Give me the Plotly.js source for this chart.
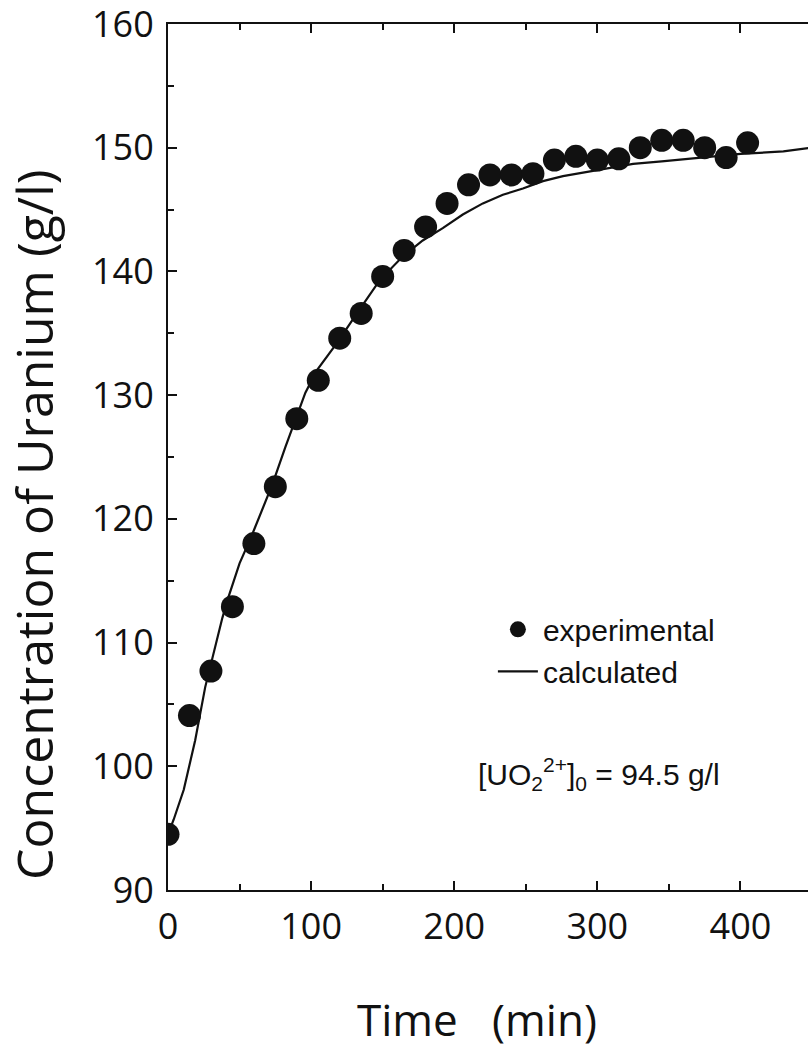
<!DOCTYPE html>
<html>
<head>
<meta charset="utf-8">
<script src="https://cdn.plot.ly/plotly-3.0.1.min.js"></script>
<style>
html, body { margin: 0; padding: 0; background: #fff; overflow: hidden; }
#chart { width: 830px; height: 1048px; }
</style>
</head>
<body>
<div id="chart"></div>
<script>
// Experimental points (time in min, concentration in g/l)
const expTime = [0, 15, 30, 45, 60, 75, 90, 105, 120, 135, 150, 165, 180, 195, 210, 225, 240, 255, 270, 285, 300, 315, 330, 345, 360, 375, 390, 405];
const expConc = [94.5, 104.1, 107.7, 112.9, 118.0, 122.6, 128.1, 131.2, 134.6, 136.6, 139.6, 141.7, 143.6, 145.5, 147.0, 147.8, 147.8, 147.9, 149.0, 149.3, 149.0, 149.1, 150.0, 150.6, 150.6, 150.0, 149.2, 150.4];

// Calculated curve
const calcTime = [0, 4, 11, 19, 26, 32, 38, 42, 50, 58, 66, 73, 82, 90, 96, 104, 118, 132, 148, 164, 178, 192, 206, 220, 234, 248, 262, 276, 290, 304, 325, 345, 365, 400, 430, 450];
const calcConc = [94.5, 95.7, 98.1, 102.1, 106.4, 109.2, 112.0, 113.6, 116.4, 118.5, 120.8, 122.8, 125.8, 128.4, 130.2, 132.0, 134.2, 136.6, 139.3, 141.2, 142.5, 143.5, 144.6, 145.5, 146.2, 146.7, 147.3, 147.7, 148.0, 148.3, 148.7, 148.9, 149.1, 149.5, 149.7, 150.0];

const xTicks = [0, 100, 200, 300, 400];
const yTicks = [90, 100, 110, 120, 130, 140, 150, 160];

const tickFont = { family: "Open Sans, sans-serif", size: 36, color: "#111" };
const labelFont = { family: "Liberation Sans, Arial, sans-serif", size: 30, color: "#111" };

const traces = [
  {
    x: calcTime, y: calcConc, type: "scatter", mode: "lines",
    name: "calculated", legendgroup: "b", legendrank: 2,
    line: { color: "#111", width: 2.2 }
  },
  {
    x: expTime, y: expConc, type: "scatter", mode: "markers",
    name: "experimental", legendgroup: "a", legendrank: 1,
    marker: { color: "#111", size: 23 }
  }
];

const layout = {
  width: 830, height: 1048,
  margin: { l: 167.6, r: 17.5, t: 23.9, b: 157.5 },
  paper_bgcolor: "#fff", plot_bgcolor: "#fff",
  showlegend: true,
  legend: {
    x: 0.5045, y: 0.331, xanchor: "left", yanchor: "top",
    font: labelFont, bgcolor: "rgba(0,0,0,0)",
    traceorder: "grouped", tracegroupgap: 0, itemsizing: "trace", itemwidth: 40
  },
  xaxis: {
    range: [0, 450], tickvals: xTicks, ticktext: xTicks.map(String),
    ticks: "inside", ticklen: 9, tickwidth: 2, tickcolor: "#111",
    minor: { dtick: 50, tick0: 0, ticks: "inside", ticklen: 6, tickwidth: 2, tickcolor: "#111" },
    showline: true, linecolor: "#111", linewidth: 2, mirror: "ticks",
    showgrid: false, zeroline: false, tickfont: tickFont, ticklabelstandoff: 4,
    ticklabeloverflow: "allow"
  },
  yaxis: {
    range: [90, 160], tickvals: yTicks, ticktext: yTicks.map(String),
    ticks: "inside", ticklen: 9, tickwidth: 2, tickcolor: "#111",
    minor: { dtick: 5, tick0: 90, ticks: "inside", ticklen: 6, tickwidth: 2, tickcolor: "#111" },
    showline: true, linecolor: "#111", linewidth: 2, mirror: true,
    showgrid: false, zeroline: false, tickfont: tickFont, ticklabelstandoff: 5,
    ticklabeloverflow: "allow"
  },
  annotations: [
    {
      text: "[UO<sub>2</sub><sup>2+</sup>]<sub>0</sub> = 94.5 g/l",
      xref: "paper", yref: "paper", x: 0.479, y: 0.1345,
      xanchor: "left", yanchor: "middle", showarrow: false, font: labelFont
    },
    {
      text: "Time\u00a0\u00a0 (min)",
      xref: "paper", yref: "paper", x: 0.48, y: -0.149,
      xanchor: "center", yanchor: "middle", showarrow: false,
      font: { family: "Open Sans, sans-serif", size: 44, color: "#111" }
    },
    {
      text: "Concentration of Uranium (g/l)",
      xref: "paper", yref: "paper", x: -0.208, y: 0.4215, textangle: -90,
      xanchor: "center", yanchor: "middle", showarrow: false,
      font: { family: "Open Sans, sans-serif", size: 50, color: "#111" }
    }
  ]
};

Plotly.newPlot("chart", traces, layout, { displayModeBar: false, staticPlot: true });
</script>
</body>
</html>
